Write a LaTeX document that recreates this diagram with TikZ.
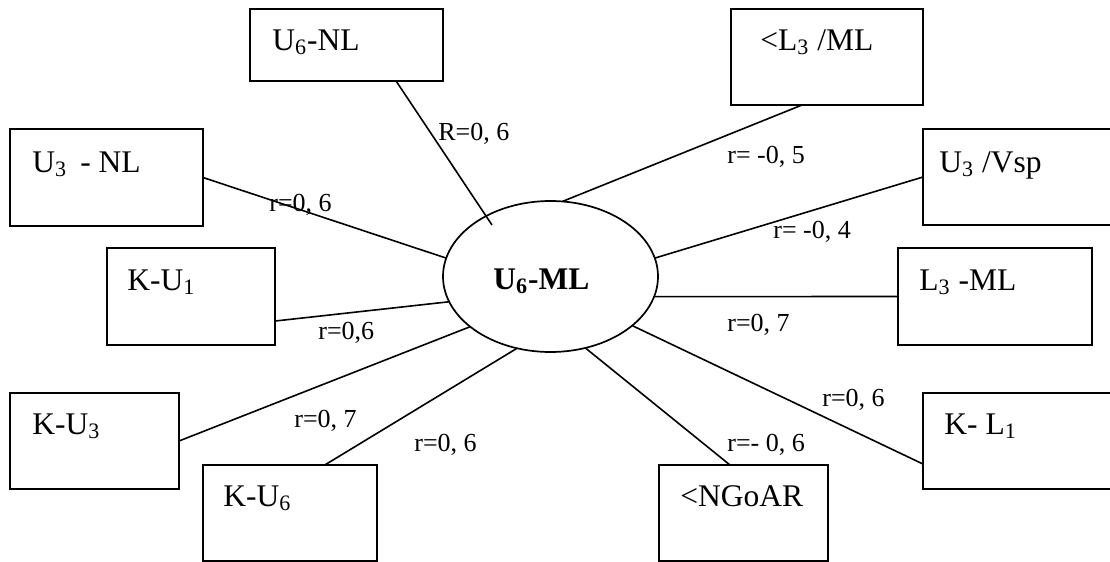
\documentclass[tikz,border=0pt]{standalone}
\usepackage{fontspec}
\setmainfont{Liberation Serif}
\usetikzlibrary{shapes.geometric,calc}
\newcommand\lowidx[1]{\textsubscript{#1}}
\begin{document}
\begin{tikzpicture}[x=0.5pt, y=-0.5pt,
  box/.style 2 args={draw, rectangle, line width=0.95pt, anchor=north west,
    inner sep=0pt, outer sep=0pt, minimum width=#1*0.5pt, minimum height=#2*0.5pt},
  boxtext/.style={anchor=base west, inner sep=0pt, font=\fontsize{15.75}{18}\selectfont},
  rlabel/.style={anchor=base west, inner sep=0pt, font=\fontsize{13}{15}\selectfont},
  link/.style={draw, line width=0.8pt}]
\useasboundingbox (0,0) rectangle (1110,562);

% central ellipse and its title
\node[ellipse, draw, line width=0.85pt, inner sep=0pt, outer sep=0pt,
  minimum width=107.5pt, minimum height=75.5pt] (ml) at (550.5,276.5) {};
\node[boxtext] (mltitle) at (493,289) {\textbf{U\lowidx{6}-ML}};

% surrounding boxes
\node[box={193}{72}, label={[boxtext, xshift=11pt, yshift=-20.5pt]north west:U\lowidx{6}-NL}] (unl6) at (250,9) {};
\node[box={193}{97}, label={[boxtext, xshift=11pt, yshift=-21.5pt]north west:U\lowidx{3}\hspace{0.42em}- NL}] (unl3) at (10,129) {};
\node[box={168}{97}, label={[boxtext, xshift=10pt, yshift=-21pt]north west:K-U\lowidx{1}}] (ku1) at (107,248) {};
\node[box={169}{96}, label={[boxtext, xshift=11pt, yshift=-20.5pt]north west:K-U\lowidx{3}}] (ku3) at (10,393) {};
\node[box={174}{96}, label={[boxtext, xshift=10pt, yshift=-20.5pt]north west:K-U\lowidx{6}}] (ku6) at (203,465) {};
\node[box={192}{96}, label={[boxtext, xshift=14.5pt, yshift=-20.5pt]north west:<L\lowidx{3} /ML}] (lml) at (731,9) {};
\node[box={200}{96}, label={[boxtext, xshift=8pt, yshift=-21.5pt]north west:U\lowidx{3} /Vsp}] (vsp) at (923,129) {};
\node[box={194}{97}, label={[boxtext, xshift=10.5pt, yshift=-21pt]north west:L\lowidx{3} -ML}] (l3ml) at (898,248) {};
\node[box={200}{96}, label={[boxtext, xshift=10.5pt, yshift=-20.5pt]north west:K- L\lowidx{1}}] (kl1) at (923,393) {};
\node[box={169}{96}, label={[boxtext, xshift=10.5pt, yshift=-20.5pt]north west:<NGoAR}] (ngoar) at (659,465) {};

% the U6-NL connector reaches a little inside the ellipse
\coordinate (mltip) at ($(ml.center)+(-58.5,-51.5)$);

% connectors
\draw[link] ($(unl6.south west)!0.757!(unl6.south east)$) -- (mltip);
\draw[link] (unl3.east) -- (ml.170);
\draw[link] ($(ku1.north east)!0.753!(ku1.south east)$) -- (ml.194);
\draw[link] (ku3.east) -- (ml.212);
\draw[link] ($(ku6.north west)!0.70!(ku6.north east)$) -- (ml.245);
\draw[link] ($(lml.south west)!0.37!(lml.south east)$) -- (ml.81);
\draw[link] (vsp.west) -- (ml.10);
\draw[link] (l3ml.west) -- (ml.349);
\draw[link] ($(kl1.north west)!0.74!(kl1.south west)$) -- (ml.329);
\draw[link] ($(ngoar.north west)!0.42!(ngoar.north east)$) -- (ml.296);

% correlation values
\node[rlabel] (c1) at (438,140) {R=0, 6};
\node[rlabel] (c2) at (269,211) {r=0, 6};
\node[rlabel] (c3) at (318,339) {r=0,6};
\node[rlabel] (c4) at (294,427) {r=0, 7};
\node[rlabel] (c5) at (414,451) {r=0, 6};
\node[rlabel] (c6) at (727,163) {r= -0, 5};
\node[rlabel] (c7) at (773,238) {r= -0, 4};
\node[rlabel] (c8) at (727,331) {r=0, 7};
\node[rlabel] (c9) at (822,406) {r=0, 6};
\node[rlabel] (c10) at (727,451) {r=- 0, 6};
\end{tikzpicture}
\end{document}
